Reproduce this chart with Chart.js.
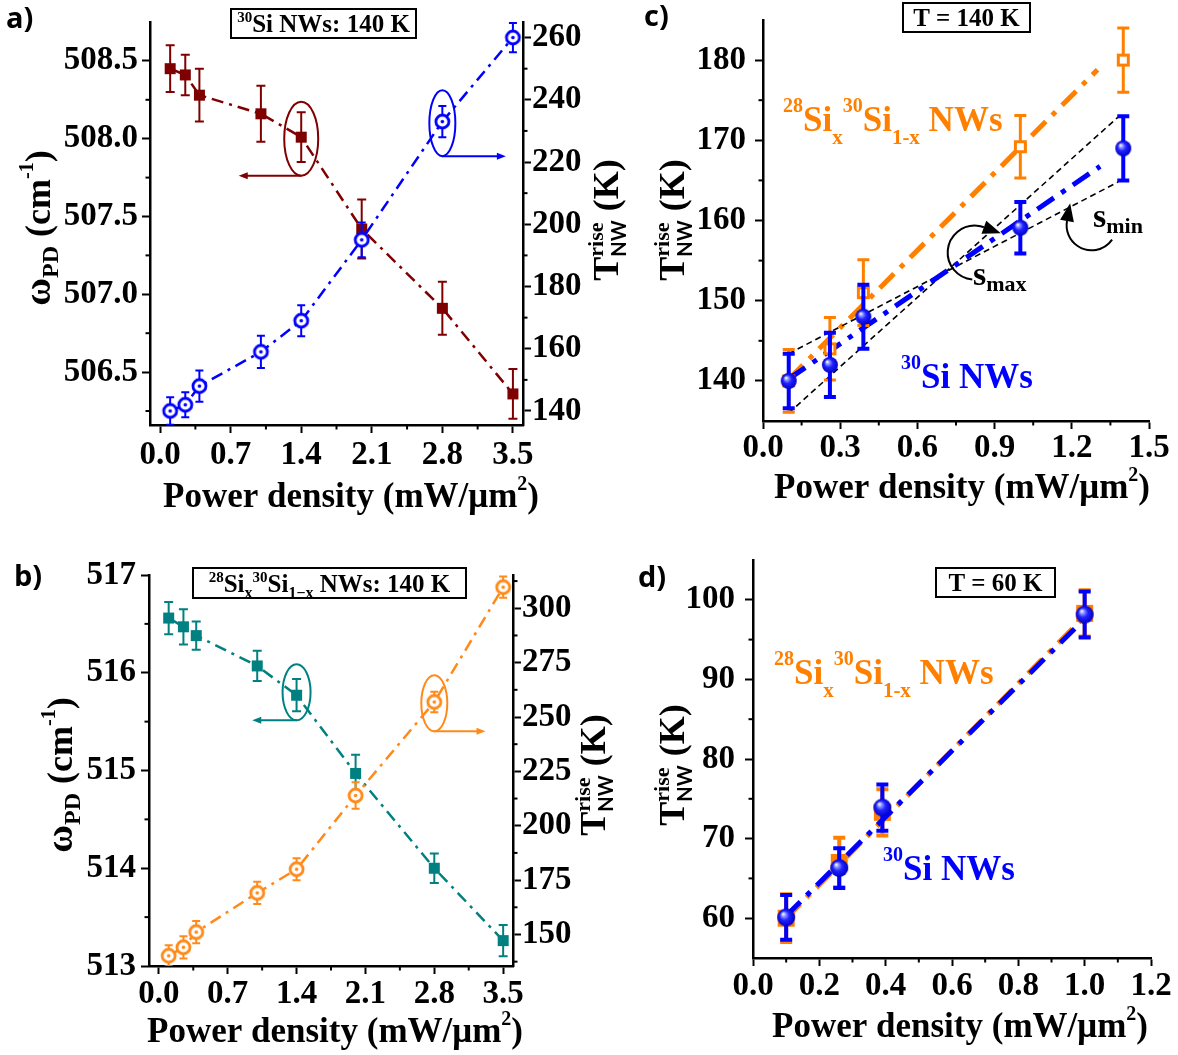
<!DOCTYPE html>
<html>
<head>
<meta charset="utf-8">
<script src="https://cdn.jsdelivr.net/npm/chart.js@4.4.1/dist/chart.umd.min.js"></script>
<style>
  html, body { margin: 0; padding: 0; background: #fff; }
  #page { position: relative; width: 1178px; height: 1055px; overflow: hidden; background: #fff; }
  canvas { position: absolute; }
</style>
</head>
<body>
<div id="page">
  <canvas id="chartA" width="640" height="520" style="left:0;top:0;width:640px;height:520px"></canvas>
  <canvas id="chartB" width="640" height="535" style="left:0;top:520px;width:640px;height:535px"></canvas>
  <canvas id="chartC" width="548" height="520" style="left:630px;top:0;width:548px;height:520px"></canvas>
  <canvas id="chartD" width="548" height="535" style="left:630px;top:520px;width:548px;height:535px"></canvas>
</div>
<script>
// panel a: 30Si NWs at 140 K
var powerA = [0.1, 0.25, 0.39, 1.0, 1.4, 2.0, 2.8, 3.5];
var omegaA = [508.45, 508.41, 508.28, 508.16, 508.01, 507.42, 506.91, 506.36];
var omegaErrA = [0.15, 0.13, 0.17, 0.18, 0.16, 0.19, 0.17, 0.16];
var tempA = [140, 142, 148, 159, 169, 195, 233, 260];
var tempErrA = [4.4, 4.0, 5.0, 5.2, 5.0, 5.6, 5.0, 4.7];

// panel b: 28Six30Si1-x NWs at 140 K
var powerB = [0.1, 0.25, 0.38, 1.0, 1.4, 2.0, 2.8, 3.5];
var omegaB = [516.56, 516.47, 516.38, 516.07, 515.77, 514.97, 514.0, 513.26];
var omegaErrB = [0.165, 0.18, 0.145, 0.155, 0.165, 0.19, 0.15, 0.16];
var tempB = [140.2, 144.1, 151.1, 169.1, 180, 213.9, 256.9, 309.7];
var tempErrB = [4.8, 5.1, 5.1, 5.1, 5.1, 6.1, 4.7, 4.9];

// panel c: T = 140 K
var powerC = [0.1, 0.26, 0.39, 1.0, 1.4];
var riseC30 = [140, 142, 148, 159.1, 169];
var riseErrC30 = [3.4, 4, 4, 3.2, 4];
var riseCmix = [140, 144, 151, 169.2, 180];
var riseErrCmix = [3.9, 3.9, 4.1, 3.9, 4];
var fitPowerC = [0.1, 1.3];
var fitCmix = [140.2, 178.8];
var fitPowerC30 = [0.1, 1.31];
var fitC30 = [140.25, 166.75];
var slopePowerC = [0.1, 1.38];
var sMaxC = [136.0, 172.9];
var sMinC = [143.4, 164.8];

// panel d: T = 60 K
var powerD = [0.1, 0.26, 0.39, 1.0];
var riseD30 = [60.1, 66.3, 73.9, 98.15];
var riseErrD30 = [2.8, 2.5, 2.9, 2.9];
var riseDmix = [60, 67, 73.3, 98.3];
var riseErrDmix = [3, 3.1, 2.9, 2.9];
var fitPowerD = [0.1, 0.99];
var fitD30 = [60.3, 97.2];
var fitDmix = [60.0, 97.5];

// tick values
var xTicks35 = [0, 0.7, 1.4, 2.1, 2.8, 3.5];
var xMinor35 = [0.35, 1.05, 1.75, 2.45, 3.15];
var omegaTicksA = [506.5, 507.0, 507.5, 508.0, 508.5];
var omegaMinorA = [506.25, 506.75, 507.25, 507.75, 508.25];
var tempTicksA = [140, 160, 180, 200, 220, 240, 260];
var tempMinorA = [150, 170, 190, 210, 230, 250];
var omegaTicksB = [513, 514, 515, 516, 517];
var omegaMinorB = [513.5, 514.5, 515.5, 516.5];
var tempTicksB = [150, 175, 200, 225, 250, 275, 300];
var tempMinorB = [137.5, 162.5, 187.5, 212.5, 237.5, 262.5, 287.5, 312.5];
var xTicksC = [0, 0.3, 0.6, 0.9, 1.2, 1.5];
var xMinorC = [0.15, 0.45, 0.75, 1.05, 1.35];
var riseTicksC = [140, 150, 160, 170, 180];
var riseMinorC = [145, 155, 165, 175];
var xTicksD = [0, 0.2, 0.4, 0.6, 0.8, 1.0, 1.2];
var xMinorD = [0.1, 0.3, 0.5, 0.7, 0.9, 1.1];
var riseTicksD = [60, 70, 80, 90, 100];
var riseMinorD = [65, 75, 85, 95];

var SERIF = '"Liberation Serif", "Times New Roman", serif';
var SANS = 'Lato, "Open Sans", sans-serif';
var LABEL_FONT = '"Open Sans", Lato, sans-serif';
var BLUE = '#0000ff', DARKRED = '#7f0000', TEAL = '#008080', ORANGE_B = '#ff8a1a', ORANGE = '#ff8000';
var DASH_THIN = [12, 6, 3, 6];
var DASH_THICK = [20, 9, 5, 9];

Chart.defaults.font.family = SERIF;
Chart.defaults.font.weight = 'bold';
Chart.defaults.color = '#000';

// rich text pieces (sub/superscripts)
var XTITLE = [{t: 'Power density (mW/\u03bcm', s: 35}, {t: '2', s: 20, dy: -17}, {t: ')', s: 35}];
var OMEGA = [{t: '\u03c9', s: 38}, {t: 'PD', s: 24, dy: 8}, {t: ' (cm', s: 36}, {t: '-1', s: 20, dy: -17}, {t: ')', s: 36}];
var TRISE = [{t: 'T', s: 36}, {t: 'rise', s: 22, dy: -15}, {t: 'NW', s: 20, dy: 8, f: SANS, stack: true}, {t: ' (K)', s: 36}];
var MIX = [{t: '28', s: 20, dy: -19}, {t: 'Si', s: 35}, {t: 'x', s: 21, dy: 13}, {t: '30', s: 20, dy: -19},
           {t: 'Si', s: 35}, {t: '1-x', s: 21, dy: 13}, {t: ' NWs', s: 35}];
var SI30 = [{t: '30', s: 20, dy: -19}, {t: 'Si NWs', s: 35}];
function label(s) { return [{t: s, s: 29, f: LABEL_FONT}]; }

function pts(xs, ys) { return xs.map(function (x, i) { return {x: x, y: ys[i]}; }); }

function marker(size, fn) {
  var c = document.createElement('canvas');
  c.width = c.height = size;
  fn(c.getContext('2d'), size / 2);
  return c;
}
function square(side, fill, stroke, lw) {
  return marker(side + 6, function (g, c) {
    g.fillStyle = fill;
    g.fillRect(c - side / 2, c - side / 2, side, side);
    if (stroke) { g.lineWidth = lw; g.strokeStyle = stroke; g.strokeRect(c - side / 2 + lw / 2, c - side / 2 + lw / 2, side - lw, side - lw); }
  });
}
function ring(r, color, lw) {
  return marker(2 * r + 6, function (g, c) {
    g.beginPath(); g.arc(c, c, r, 0, 2 * Math.PI);
    g.fillStyle = '#fff'; g.fill();
    g.lineWidth = lw; g.strokeStyle = color; g.stroke();
    g.beginPath(); g.arc(c, c, 1.8, 0, 2 * Math.PI);
    g.fillStyle = color; g.fill();
  });
}
function ball(r) {
  return marker(2 * r + 4, function (g, c) {
    var gr = g.createRadialGradient(c - r * 0.35, c - r * 0.4, 0.5, c, c, r);
    gr.addColorStop(0, '#f4f5ff');
    gr.addColorStop(0.2, '#8a95ff');
    gr.addColorStop(0.5, '#2222ff');
    gr.addColorStop(1, '#0000c8');
    g.fillStyle = gr;
    g.beginPath(); g.arc(c, c, r, 0, 2 * Math.PI); g.fill();
  });
}

function series(xs, ys, o) {
  return {
    data: pts(xs, ys),
    yAxisID: o.axis || 'y',
    showLine: !!o.line,
    borderColor: o.color,
    backgroundColor: o.color,
    borderWidth: o.lw || 2.5,
    borderDash: o.dash || [],
    pointStyle: o.marker || false,
    pointRadius: o.marker ? 8 : 0,
    errors: o.err,
    errColor: o.ecolor || o.color,
    errWidth: o.ew || 2,
    cap: o.cap || 4
  };
}

function axis(pos, min, max, ticks, size, pad, fmt) {
  return {
    type: 'linear', position: pos, min: min, max: max,
    afterBuildTicks: function (s) { s.ticks = ticks.map(function (v) { return {value: v}; }); },
    afterFit: function (s) {
      if (pos === 'bottom') s.height = size; else s.width = size;
      s.paddingTop = s.paddingBottom = s.paddingLeft = s.paddingRight = 0;
    },
    ticks: { autoSkip: false, maxRotation: 0, padding: pad, color: '#000',
             font: {family: SERIF, size: 33, weight: 'bold'}, callback: fmt },
    grid: { drawOnChartArea: false, drawTicks: true, tickLength: 8, tickWidth: 2, tickColor: '#000' },
    border: { display: true, width: 2.5, color: '#000' }
  };
}
function fmt1(v) { return v.toFixed(1); }
function fmt0(v) { return String(v); }

function drawRich(ctx, t) {
  ctx.save();
  ctx.fillStyle = t.color || '#000';
  ctx.textBaseline = 'alphabetic';
  ctx.textAlign = 'left';
  var cx = 0, start = 0, prevW = 0, items = [];
  t.parts.forEach(function (p) {
    var font = (p.w || 'bold') + ' ' + p.s + 'px ' + (p.f || SERIF);
    ctx.font = font;
    var w = ctx.measureText(p.t).width;
    if (p.stack) {
      items.push({p: p, font: font, x: start});
      prevW = Math.max(prevW, w);
      cx = start + prevW;
    } else {
      items.push({p: p, font: font, x: cx});
      start = cx; prevW = w; cx += w;
    }
  });
  var off = t.align === 'center' ? -cx / 2 : 0;
  ctx.translate(t.x, t.y);
  if (t.rot) ctx.rotate(-Math.PI / 2);
  items.forEach(function (it) {
    ctx.font = it.font;
    ctx.fillText(it.p.t, it.x + off, it.p.dy || 0);
  });
  ctx.restore();
}

function makeDecor(cfg) {
  return {
    id: 'decor',
    beforeDatasetDraw: function (chart, args) {
      var ds = chart.data.datasets[args.index];
      if (!ds.errors) return;
      var ctx = chart.ctx, a = chart.chartArea, ys = chart.scales[ds.yAxisID];
      ctx.save();
      ctx.beginPath(); ctx.rect(a.left, a.top, a.right - a.left, a.bottom - a.top); ctx.clip();
      ctx.strokeStyle = ds.errColor; ctx.lineWidth = ds.errWidth;
      args.meta.data.forEach(function (el, i) {
        var v = ds.data[i].y, e = ds.errors[i], c = ds.cap, x = el.x;
        var y1 = ys.getPixelForValue(v + e), y2 = ys.getPixelForValue(v - e);
        ctx.beginPath();
        ctx.moveTo(x, y1); ctx.lineTo(x, y2);
        ctx.moveTo(x - c, y1); ctx.lineTo(x + c, y1);
        ctx.moveTo(x - c, y2); ctx.lineTo(x + c, y2);
        ctx.stroke();
      });
      ctx.restore();
    },
    afterDraw: function (chart) {
      var ctx = chart.ctx, xs = chart.scales.x;
      ctx.save();
      // minor ticks
      Object.keys(cfg.minor || {}).forEach(function (id) {
        var s = chart.scales[id];
        ctx.strokeStyle = '#000'; ctx.lineWidth = 2;
        cfg.minor[id].forEach(function (v) {
          var p = s.getPixelForValue(v);
          ctx.beginPath();
          if (s.position === 'bottom') { ctx.moveTo(p, s.top); ctx.lineTo(p, s.top + 4.5); }
          else if (s.position === 'left') { ctx.moveTo(s.right, p); ctx.lineTo(s.right - 4.5, p); }
          else { ctx.moveTo(s.left, p); ctx.lineTo(s.left + 4.5, p); }
          ctx.stroke();
        });
      });
      // ellipses with arrows pointing to the axis they belong to
      (cfg.ellipses || []).forEach(function (e) {
        var ys = chart.scales[e.axis];
        var cx = xs.getPixelForValue(e.x), cy = ys.getPixelForValue(e.y), by = cy + e.ry, tx = xs.getPixelForValue(e.to);
        var d = Math.sign(tx - cx);
        ctx.strokeStyle = e.color; ctx.fillStyle = e.color; ctx.lineWidth = 2;
        ctx.beginPath(); ctx.ellipse(cx, cy, e.rx, e.ry, 0, 0, 2 * Math.PI); ctx.stroke();
        ctx.beginPath(); ctx.moveTo(cx, by); ctx.lineTo(tx - d * 4, by); ctx.stroke();
        ctx.beginPath(); ctx.moveTo(tx + d * 2, by); ctx.lineTo(tx - d * 7, by - 3.5); ctx.lineTo(tx - d * 7, by + 3.5); ctx.closePath(); ctx.fill();
      });
      // curved arrows
      (cfg.arcs || []).forEach(function (a) {
        var ys = chart.scales.y;
        var cx = xs.getPixelForValue(a.x), cy = ys.getPixelForValue(a.y);
        var a0 = a.a0 * Math.PI / 180, a1 = a.a1 * Math.PI / 180;
        ctx.strokeStyle = '#000'; ctx.fillStyle = '#000'; ctx.lineWidth = 2;
        ctx.beginPath(); ctx.arc(cx, cy, a.r, a0, a1, false); ctx.stroke();
        var ex = cx + a.r * Math.cos(a1), ey = cy + a.r * Math.sin(a1);
        var dx = -Math.sin(a1), dy = Math.cos(a1), L = 18, H = 7;
        ctx.beginPath();
        ctx.moveTo(ex + dx * L, ey + dy * L);
        ctx.lineTo(ex - dy * H, ey + dx * H);
        ctx.lineTo(ex + dy * H, ey - dx * H);
        ctx.closePath(); ctx.fill();
      });
      // boxed titles
      (cfg.boxes || []).forEach(function (b) {
        ctx.strokeStyle = '#000'; ctx.lineWidth = 2;
        ctx.strokeRect(b.x0, b.y0, b.x1 - b.x0, b.y1 - b.y0);
        drawRich(ctx, {parts: b.parts, x: (b.x0 + b.x1) / 2, y: b.y1 - 6, align: 'center'});
      });
      ctx.restore();
      (cfg.texts || []).forEach(function (t) { drawRich(ctx, t); });
    }
  };
}

function build(id, o) {
  return new Chart(document.getElementById(id), {
    type: 'scatter',
    data: { datasets: o.datasets },
    options: {
      responsive: false, animation: false, devicePixelRatio: 1, events: [],
      layout: { padding: o.pad, autoPadding: false },
      plugins: { legend: {display: false}, tooltip: {enabled: false} },
      scales: o.scales
    },
    plugins: [makeDecor(o.decor)]
  });
}

// a)
build('chartA', {
  pad: {top: 22, left: 0, right: 0, bottom: 0},
  datasets: [
    series(powerA, tempA, {axis: 'y2', color: BLUE, line: true, dash: DASH_THIN, marker: ring(6.5, BLUE, 2.8), err: tempErrA, cap: 4}),
    series(powerA, omegaA, {axis: 'y', color: DARKRED, line: true, dash: DASH_THIN, marker: square(11, DARKRED), err: omegaErrA, cap: 4.5})
  ],
  scales: {
    x: axis('bottom', -0.1, 3.6, xTicks35, 95, 3, fmt1),
    y: axis('left', 506.16, 508.75, omegaTicksA, 150, 4, fmt1),
    y2: axis('right', 135.5, 265, tempTicksA, 117, 1, fmt0)
  },
  decor: {
    minor: {x: xMinor35, y: omegaMinorA, y2: tempMinorA},
    ellipses: [
      {x: 1.4, y: 508.0, axis: 'y', rx: 17, ry: 37, color: DARKRED, to: 0.8},
      {x: 2.8, y: 232.5, axis: 'y2', rx: 13, ry: 33, color: BLUE, to: 3.41}
    ],
    boxes: [{x0: 231, y0: 9, x1: 416, y1: 38, parts: [{t: '30', s: 15, dy: -10}, {t: 'Si NWs: 140 K', s: 25}]}],
    texts: [
      {parts: label('a)'), x: 6, y: 28},
      {parts: XTITLE, x: 351, y: 507, align: 'center'},
      {parts: OMEGA, x: 50, y: 228, align: 'center', rot: true},
      {parts: TRISE, x: 618, y: 220, align: 'center', rot: true}
    ]
  }
});

// b)
build('chartB', {
  pad: {top: 55, left: 0, right: 0, bottom: 0},
  datasets: [
    series(powerB, tempB, {axis: 'y2', color: ORANGE_B, line: true, dash: DASH_THIN, marker: ring(6.5, ORANGE_B, 2.8), err: tempErrB, cap: 4}),
    series(powerB, omegaB, {axis: 'y', color: TEAL, line: true, dash: DASH_THIN, marker: square(11, TEAL), err: omegaErrB, cap: 4.5})
  ],
  scales: {
    x: axis('bottom', -0.1, 3.6, xTicks35, 89, 0.5, fmt1),
    y: axis('left', 513, 517, omegaTicksB, 149, 5, fmt0),
    y2: axis('right', 135.5, 315.3, tempTicksB, 127, 1, fmt0)
  },
  decor: {
    minor: {x: xMinor35, y: omegaMinorB, y2: tempMinorB},
    ellipses: [
      {x: 1.4, y: 515.8, axis: 'y', rx: 14, ry: 28, color: TEAL, to: 0.97},
      {x: 2.8, y: 256.3, axis: 'y2', rx: 13, ry: 28, color: ORANGE_B, to: 3.3}
    ],
    boxes: [{x0: 193, y0: 48, x1: 466, y1: 78, parts: [
      {t: '28', s: 15, dy: -10}, {t: 'Si', s: 25}, {t: 'x', s: 16, dy: 6}, {t: '30', s: 15, dy: -10},
      {t: 'Si', s: 25}, {t: '1\u2212x', s: 16, dy: 6}, {t: ' NWs: 140 K', s: 25}]}],
    texts: [
      {parts: label('b)'), x: 14, y: 66},
      {parts: XTITLE, x: 335, y: 522, align: 'center'},
      {parts: OMEGA, x: 72, y: 255, align: 'center', rot: true},
      {parts: TRISE, x: 605, y: 255, align: 'center', rot: true}
    ]
  }
});

// c)
build('chartC', {
  pad: {top: 20, left: 0, right: 29, bottom: 0},
  datasets: [
    series(powerC, riseC30, {color: BLUE, marker: ball(8), err: riseErrC30, ew: 4, cap: 6}),
    series(powerC, riseCmix, {color: ORANGE, marker: square(13, '#fff', ORANGE, 3), err: riseErrCmix, ew: 3, cap: 6}),
    series(fitPowerC30, fitC30, {color: BLUE, line: true, lw: 5, dash: DASH_THICK}),
    series(slopePowerC, sMaxC, {color: '#000', line: true, lw: 1.6, dash: [6, 4]}),
    series(slopePowerC, sMinC, {color: '#000', line: true, lw: 1.6, dash: [6, 4]}),
    series(fitPowerC, fitCmix, {color: ORANGE, line: true, lw: 5, dash: DASH_THICK})
  ],
  scales: {
    x: axis('bottom', 0, 1.5, xTicksC, 99, 0, fmt1),
    y: axis('left', 135, 185, riseTicksC, 133, 9, fmt0)
  },
  decor: {
    minor: {x: xMinorC, y: riseMinorC},
    arcs: [
      {x: 0.8225, y: 156, r: 27, a0: 95, a1: 290},
      {x: 1.277, y: 159.4, r: 25, a0: 35, a1: 190}
    ],
    boxes: [{x0: 273, y0: 3, x1: 400, y1: 32, parts: [{t: 'T = 140 K', s: 25}]}],
    texts: [
      {parts: label('c)'), x: 14, y: 26},
      {parts: XTITLE, x: 332, y: 498, align: 'center'},
      {parts: TRISE, x: 54, y: 220, align: 'center', rot: true},
      {parts: MIX, x: 153, y: 131, color: ORANGE},
      {parts: SI30, x: 271, y: 388, color: BLUE},
      {parts: [{t: 's', s: 34}, {t: 'max', s: 22, dy: 6}], x: 343, y: 285},
      {parts: [{t: 's', s: 34}, {t: 'min', s: 22, dy: 6}], x: 463, y: 227}
    ]
  }
});

// d)
build('chartD', {
  pad: {top: 40, left: 0, right: 27, bottom: 0},
  datasets: [
    series(powerD, riseD30, {color: BLUE, marker: ball(9), err: riseErrD30, ew: 4, cap: 6}),
    series(fitPowerD, fitD30, {color: BLUE, line: true, lw: 5, dash: DASH_THICK}),
    series(powerD, riseDmix, {color: ORANGE, marker: square(17, ORANGE), err: riseErrDmix, ew: 4, cap: 6}),
    series(fitPowerD, fitDmix, {color: ORANGE, line: true, lw: 5, dash: DASH_THICK})
  ],
  scales: {
    x: axis('bottom', 0, 1.2, xTicksD, 97, 1, fmt1),
    y: axis('left', 55, 105, riseTicksD, 123, 10, fmt0)
  },
  decor: {
    minor: {x: xMinorD, y: riseMinorD},
    boxes: [{x0: 306, y0: 48, x1: 425, y1: 77, parts: [{t: 'T = 60 K', s: 25}]}],
    texts: [
      {parts: label('d)'), x: 8, y: 67},
      {parts: XTITLE, x: 330, y: 517, align: 'center'},
      {parts: TRISE, x: 54, y: 245, align: 'center', rot: true},
      {parts: MIX, x: 144, y: 164, color: ORANGE},
      {parts: SI30, x: 253, y: 360, color: BLUE}
    ]
  }
});
</script>
</body>
</html>
